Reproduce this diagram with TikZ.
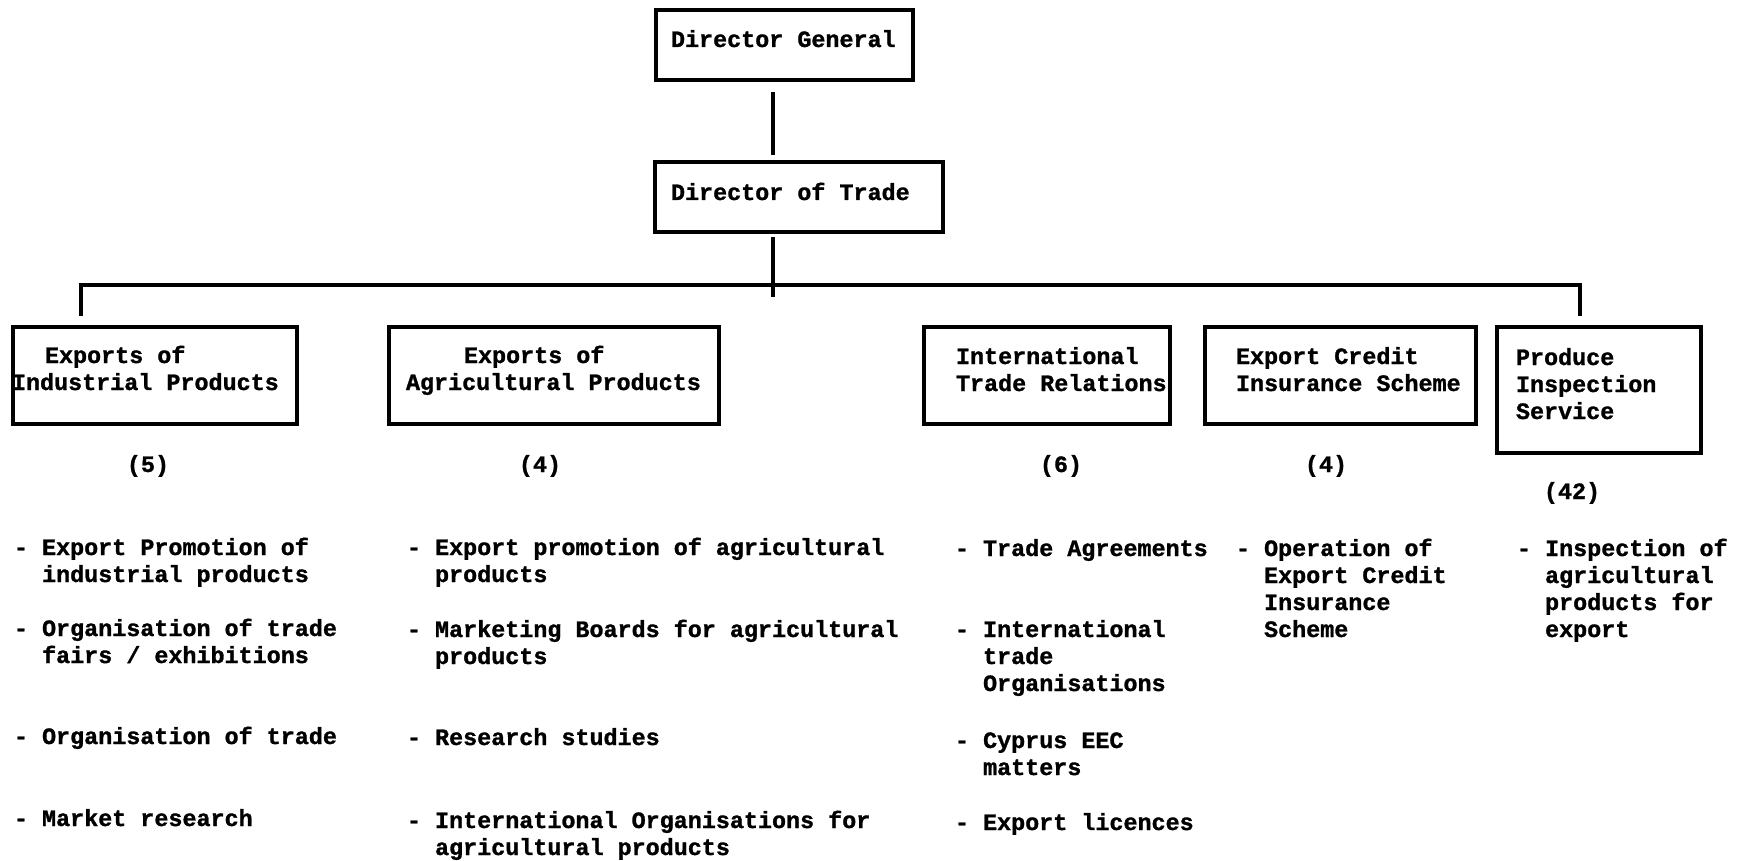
\documentclass[tikz,border=0pt]{standalone}
\usepackage{fontspec}
\setmonofont{Liberation Mono}[BoldFeatures={FakeBold=1.2}]
\usetikzlibrary{calc}
% hanging indent for continuation lines of a "- " item
\newcommand\hang{\hphantom{-\ }}
\begin{document}
\begin{tikzpicture}[x=1pt,y=-1pt,
  every node/.style={inner sep=0pt, outer sep=0pt},
  unit/.style={draw, rectangle, line width=3.4pt, anchor=north west},
  % multi-line texts are placed by the baseline of their last line
  txt/.style={font=\ttfamily\bfseries\fontsize{23.4pt}{27pt}\selectfont, align=left, anchor=base west},
  cnt/.style={font=\ttfamily\bfseries\fontsize{23.4pt}{27pt}\selectfont, anchor=base},
  link/.style={line width=3.2pt}]
\useasboundingbox (0,0) rectangle (1741,861);

% organisational units
\node[unit, minimum width=257pt, minimum height=70pt]  (dg)   at (656,10)  {};
\node[unit, minimum width=288pt, minimum height=70pt]  (dot)  at (655,162) {};
\node[unit, minimum width=284pt, minimum height=97pt]  (ind)  at (13,327)  {};
\node[unit, minimum width=330pt, minimum height=97pt]  (agr)  at (389,327) {};
\node[unit, minimum width=246pt, minimum height=97pt]  (itr)  at (924,327) {};
\node[unit, minimum width=271pt, minimum height=97pt]  (ecis) at (1205,327) {};
\node[unit, minimum width=204pt, minimum height=126pt] (pis)  at (1497,327) {};

% unit titles
\node[txt] (tdg)   at (671,47)   {Director General};
\node[txt] (tdot)  at (671,200)  {Director of Trade};
\node[txt] (tind)  at (12,390)   {\hspace*{33pt}Exports of\\Industrial Products};
\node[txt] (tagr)  at (406,390)  {\hspace*{58pt}Exports of\\Agricultural Products};
\node[txt] (titr)  at (956,391)  {International\\Trade Relations};
\node[txt] (tecis) at (1236,391) {Export Credit\\Insurance Scheme};
\node[txt] (tpis)  at (1516,419) {Produce\\Inspection\\Service};

% staff numbers
\node[cnt] (n1) at (148,472)  {(5)};
\node[cnt] (n2) at (540,472)  {(4)};
\node[cnt] (n3) at (1061,472) {(6)};
\node[cnt] (n4) at (1326,472) {(4)};
\node[cnt] (n5) at (1572,499) {(42)};

% duties
\node[txt] (p1a) at (14,582) {- Export Promotion of\\\hang industrial products};
\node[txt] (p1b) at (14,663) {- Organisation of trade\\\hang fairs / exhibitions};
\node[txt] (p1c) at (14,744) {- Organisation of trade};
\node[txt] (p1d) at (14,826) {- Market research};

\node[txt] (p2a) at (407,582) {- Export promotion of agricultural\\\hang products};
\node[txt] (p2b) at (407,664) {- Marketing Boards for agricultural\\\hang products};
\node[txt] (p2c) at (407,745) {- Research studies};
\node[txt] (p2d) at (407,855) {- International Organisations for\\\hang agricultural products};

\node[txt] (p3a) at (955,556) {- Trade Agreements};
\node[txt] (p3b) at (955,691) {- International\\\hang trade\\\hang Organisations};
\node[txt] (p3c) at (955,775) {- Cyprus EEC\\\hang matters};
\node[txt] (p3d) at (955,830) {- Export licences};

\node[txt] (p4a) at (1236,637) {- Operation of\\\hang Export Credit\\\hang Insurance\\\hang Scheme};
\node[txt] (p5a) at (1517,637) {- Inspection of\\\hang agricultural\\\hang products for\\\hang export};

% connectors
\coordinate (trunk) at (773,0);
\coordinate (busL) at (81,285);
\coordinate (busR) at (1580,285);
\draw[link] ($(dg.south -| trunk)+(0,12)$) -- ($(dot.north -| trunk)+(0,-7)$);
\draw[link] ($(dot.south -| trunk)+(0,5)$) -- ($(busL -| trunk)+(0,12)$);
\draw[link] ($(ind.north -| busL)+(0,-11)$) -- (busL) -- (busR) -- ($(pis.north -| busR)+(0,-11)$);
\end{tikzpicture}
\end{document}
